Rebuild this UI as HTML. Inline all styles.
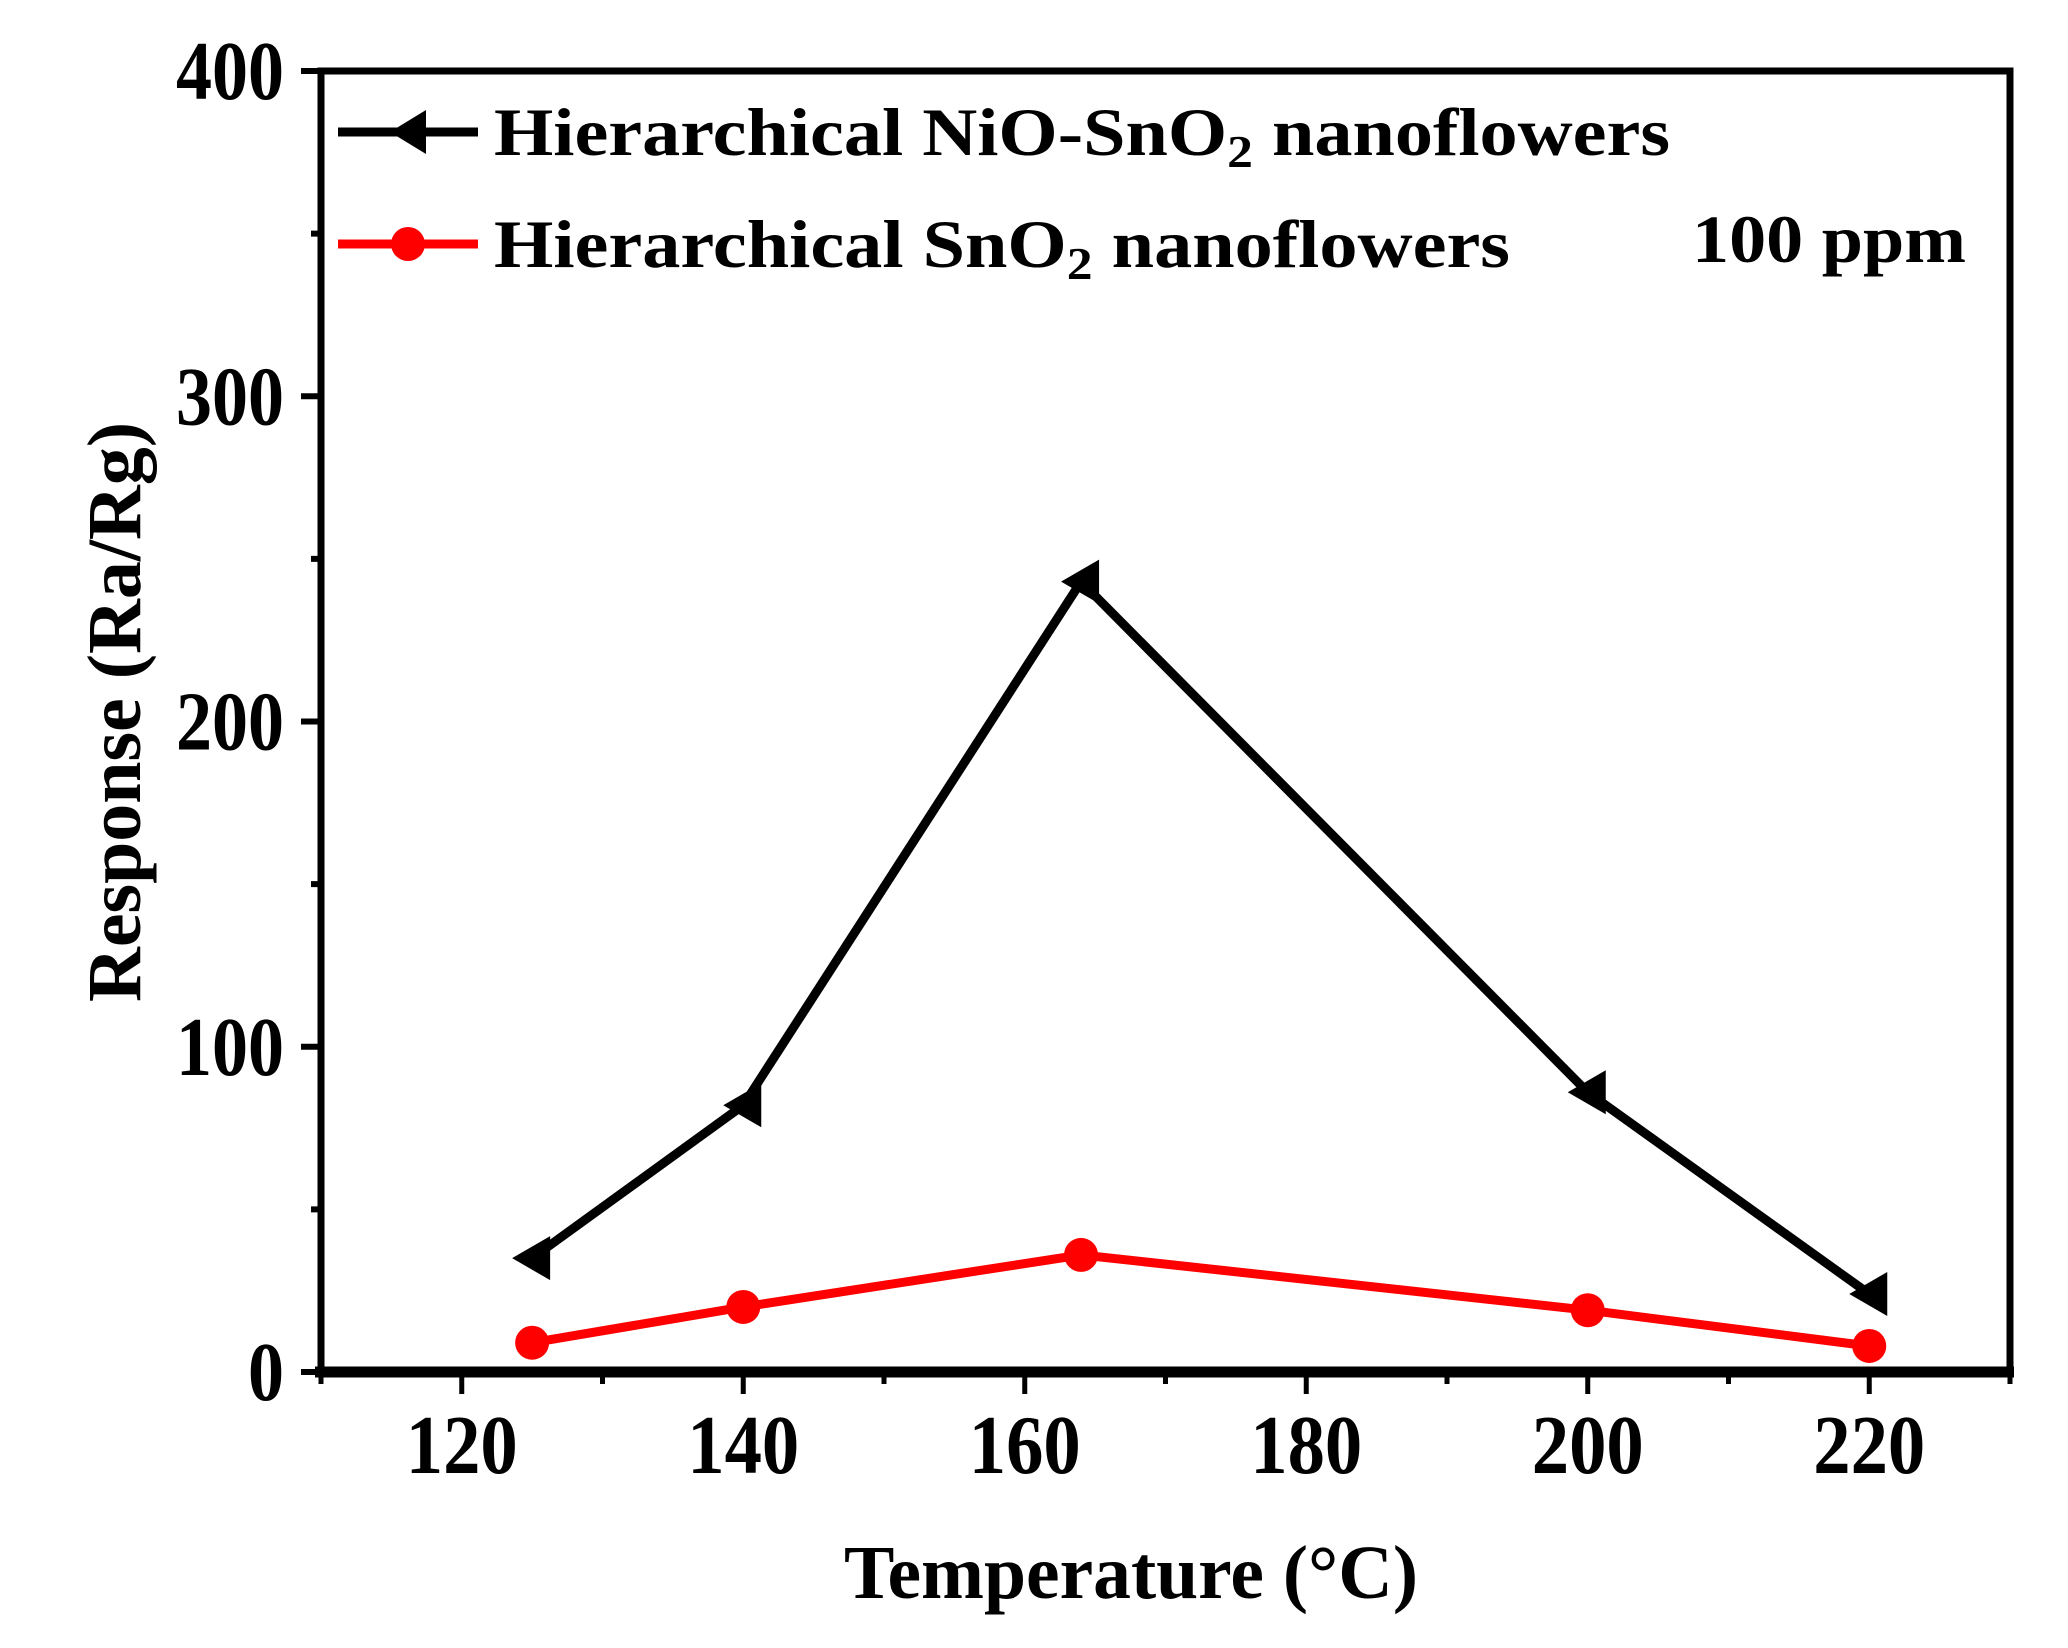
<!DOCTYPE html>
<html><head><meta charset="utf-8"><style>
html,body{margin:0;padding:0;background:#fff;}
svg{display:block;font-family:"Liberation Serif",serif;font-weight:bold;}
</style></head><body>
<svg id="chart" width="2068" height="1648" viewBox="0 0 2068 1648">
<g id="axes"></g>
<g id="series"></g>
<g id="legend">
  <line x1="338" y1="132" x2="478" y2="132" stroke="#000" stroke-width="9"/>
  <polygon points="390,132 426,110 426,154" fill="#000"/>
  <text x="494" y="155" font-size="68" textLength="1176" lengthAdjust="spacingAndGlyphs">Hierarchical NiO-SnO<tspan font-size="46" dy="12">2</tspan><tspan dy="-12"> nanoflowers</tspan></text>
  <line x1="338" y1="244" x2="478" y2="244" stroke="#f00" stroke-width="9"/>
  <circle cx="408" cy="244" r="17" fill="#f00"/>
  <text x="494" y="267" font-size="68" textLength="1016" lengthAdjust="spacingAndGlyphs">Hierarchical SnO<tspan font-size="46" dy="12">2</tspan><tspan dy="-12"> nanoflowers</tspan></text>
  <text x="1692" y="262" font-size="68" textLength="274" lengthAdjust="spacingAndGlyphs">100 ppm</text>
</g>
<text x="1131" y="1598" font-size="76" text-anchor="middle" textLength="574" lengthAdjust="spacingAndGlyphs">Temperature (°C)</text>
<text transform="translate(140,712) rotate(-90)" font-size="76" text-anchor="middle" textLength="580" lengthAdjust="spacingAndGlyphs">Response (Ra/Rg)</text>
</svg>
<script>
const temps = [125, 140, 164, 200, 220];
const nioSno2 = [35, 82, 243, 86, 24];
const sno2 = [9, 20, 36, 19, 8];
const xTicks = [120, 140, 160, 180, 200, 220];
const yTicks = [0, 100, 200, 300, 400];

const L=321, R=2010, T=71, B=1372;
const xMin=110, xMax=230, yMin=0, yMax=400;
const sx = v => L + (v-xMin)/(xMax-xMin)*(R-L);
const sy = v => B - (v-yMin)/(yMax-yMin)*(B-T);
const NS="http://www.w3.org/2000/svg";
function mk(tag, attrs, parent){const e=document.createElementNS(NS,tag);for(const k in attrs)e.setAttribute(k,attrs[k]);parent.appendChild(e);return e;}
const axes=document.getElementById('axes');
const series=document.getElementById('series');

const frame=mk('rect',{x:L,y:T,width:R-L,height:B-T,fill:'none',stroke:'#000','stroke-width':7},axes);


const bx=mk('line',{x1:L-6,y1:B,x2:R+4,y2:B,stroke:'#000','stroke-width':11},axes);



for(let v=xMin; v<=xMax; v+=10){
  const major = xTicks.includes(v);
  const t=mk('line',{x1:sx(v),y1:B,x2:sx(v),y2:B+(major?22:12),stroke:'#000','stroke-width':5},axes);
  
  
}
xTicks.forEach(v=>{
  const t=mk('text',{x:sx(v),y:1473,'font-size':84,'text-anchor':'middle',textLength:112,lengthAdjust:'spacingAndGlyphs'},axes);
  t.textContent=String(v);
  
  
});
for(let v=yMin; v<=yMax; v+=50){
  const major = yTicks.includes(v);
  const t=mk('line',{x1:L,y1:sy(v),x2:L-(major?20:10),y2:sy(v),stroke:'#000','stroke-width':6},axes);
  
  
}
yTicks.forEach(v=>{
  const s=String(v);
  const t=mk('text',{x:284,y:sy(v)+28,'font-size':84,'text-anchor':'end',textLength:s.length*36,lengthAdjust:'spacingAndGlyphs'},axes);
  t.textContent=s;
  
  
});

function drawSeries(vals, color, name, marker){
  const pts=temps.map((t,i)=>sx(t)+','+sy(vals[i])).join(' ');
  const pl=mk('polyline',{points:pts,fill:'none',stroke:color,'stroke-width':9,'stroke-linejoin':'miter'},series);
  
  
  temps.forEach((t,i)=>{
    const x=sx(t), y=sy(vals[i]);
    let m;
    if(marker==='tri') m=mk('polygon',{points:`${x-20},${y} ${x+18},${y-22} ${x+18},${y+22}`,fill:color},series);
    else m=mk('circle',{cx:x,cy:y,r:17,fill:color},series);
    
    
  });
}
drawSeries(nioSno2,'#000','nio-sno2','tri');
drawSeries(sno2,'#f00','sno2','circ');
</script>
</body></html>
